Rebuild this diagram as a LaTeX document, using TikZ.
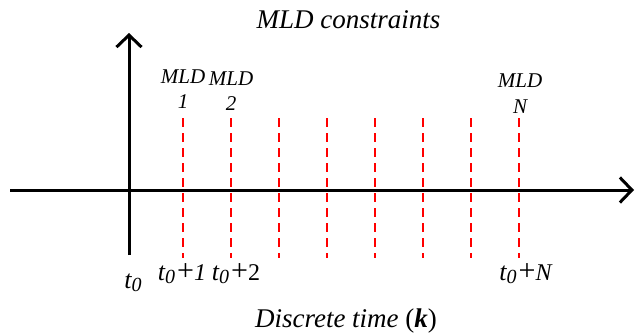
\documentclass[tikz,border=0pt]{standalone}
\usepackage{fontspec}
\setmainfont{Liberation Serif}
\usetikzlibrary{arrows.meta}
\tikzset{
  axis/.style={line width=3pt, -{Straight Barb[length=12pt,width=25pt,line width=3pt]}},
  mark line/.style={red, line width=2pt, dash pattern=on 9pt off 6pt},
  lbl/.style={inner sep=0pt, anchor=base, font=\fontsize{21}{24}\selectfont\itshape},
  tlbl/.style={inner sep=0pt, anchor=base, font=\fontsize{24}{26}\selectfont},
  big/.style={inner sep=0pt, anchor=base, font=\fontsize{27}{30}\selectfont\itshape}
}
\newcommand{\tz}{{\fontsize{26}{26}\selectfont\itshape t}\raisebox{-0.3ex}{\fontsize{20}{20}\selectfont\itshape 0}}
\newcommand{\pls}{\hspace{2pt}{\fontsize{30}{30}\selectfont +}}
\begin{document}
\begin{tikzpicture}[x=1pt,y=-1pt]
\useasboundingbox (0,0) rectangle (635,333);
% axes
\coordinate (hs) at (10,190);
\coordinate (he) at (634,190);
\coordinate (vs) at (129,255);
\coordinate (ve) at (129,33);
% dashed lines
\foreach \i [count=\n] in {0,...,7}{
  \coordinate (top\n) at ({183+48*\i},118);
  \coordinate (bot\n) at ({183+48*\i},258);
  \draw[mark line] (top\n) -- (bot\n);
}
\draw[axis] (hs) -- (he);
\draw[axis] (vs) -- (ve);
% labels
\node[big] (title) at (348.5,28) {MLD constraints};
\node[lbl] (m1a) at (183,83) {MLD};
\node[lbl] (m1b) at (183,108) {1};
\node[lbl] (m2a) at (231,85) {MLD};
\node[lbl] (m2b) at (231,110) {2};
\node[lbl] (mNa) at (520,87) {MLD};
\node[lbl] (mNb) at (520,113) {N};
\node[tlbl] (t0) at (133,288) {\tz};
\node[tlbl] (t1) at (182,280) {\tz\pls\textit{1}};
\node[tlbl] (t2) at (236,280) {\tz\pls 2};
\node[tlbl] (tN) at (526,280) {\tz\pls\textit{N}};
\node[big] (xl) at (346,327) {Discrete time \textup{(}\textbf{\textit{k}}\textup{)}};
\end{tikzpicture}
\end{document}
